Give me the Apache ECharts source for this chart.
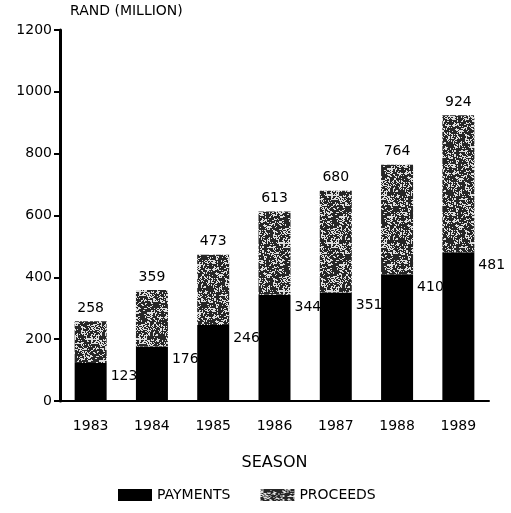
<!DOCTYPE html>
<html>
<head>
<meta charset="utf-8">
<script src="https://cdn.jsdelivr.net/npm/echarts@6/dist/echarts.min.js"></script>
<style>
  html, body { margin: 0; padding: 0; background: #fff; }
  #chart { width: 511px; height: 513px; }
</style>
</head>
<body>
<div id="chart"></div>
<script>
// Seasons and values in rand (million)
const seasons = ['1983', '1984', '1985', '1986', '1987', '1988', '1989'];
const payments = [123, 176, 246, 344, 351, 410, 481];
const totals = [258, 359, 473, 613, 680, 764, 924];
// proceeds segment sits on top of payments, so the stack reaches the total
const proceeds = totals.map((t, i) => t - payments[i]);

const FONT = 'DejaVu Sans';

// Speckled grey fill for the proceeds segment (deterministic hash, no randomness)
function hash(x, y) {
  const h = Math.sin(x * 12.9898 + y * 78.233) * 43758.5453;
  return h - Math.floor(h);
}
function speckleTexture() {
  const size = 48;
  const c = document.createElement('canvas');
  c.width = c.height = size;
  const g = c.getContext('2d');
  g.fillStyle = '#262626';
  g.fillRect(0, 0, size, size);
  g.fillStyle = '#dedede';
  for (let y = 0; y < size; y++) {
    for (let x = 0; x < size; x++) {
      const v = 0.55 * hash(x, y) + 0.45 * hash(Math.floor(x / 3) + 101, Math.floor(y / 2) + 57);
      if (v < 0.4) g.fillRect(x, y, 1, 1);
    }
  }
  return c;
}
const proceedsFill = { image: speckleTexture(), repeat: 'repeat' };

const chart = echarts.init(document.getElementById('chart'), null, { renderer: 'canvas' });

chart.setOption({
  animation: false,
  backgroundColor: '#fff',
  textStyle: { fontFamily: FONT, color: '#000' },
  grid: { left: 60, right: 22, top: 30, bottom: 112, containLabel: false },
  legend: {
    left: 113,
    top: 483,
    icon: 'rect',
    itemWidth: 34,
    itemHeight: 12,
    itemGap: 30,
    textStyle: { fontFamily: FONT, fontSize: 14, color: '#000' },
    data: ['PAYMENTS', 'PROCEEDS']
  },
  xAxis: {
    type: 'category',
    data: seasons,
    name: 'SEASON',
    nameLocation: 'middle',
    nameGap: 54,
    nameTextStyle: { fontFamily: FONT, fontSize: 16, color: '#000' },
    axisLine: { lineStyle: { color: '#000', width: 2 } },
    axisTick: { alignWithLabel: true, length: 6, lineStyle: { color: '#000', width: 2 } },
    axisLabel: { fontFamily: FONT, fontSize: 14, color: '#000', margin: 18 }
  },
  yAxis: {
    type: 'value',
    min: 0,
    max: 1200,
    interval: 200,
    name: 'RAND (MILLION)',
    nameLocation: 'end',
    nameGap: 12,
    nameTextStyle: { fontFamily: FONT, fontSize: 14, color: '#000', align: 'left', padding: [0, 0, 0, 10] },
    axisLine: { show: true, lineStyle: { color: '#000', width: 3 } },
    axisTick: { show: true, length: 6, lineStyle: { color: '#000', width: 2 } },
    axisLabel: { fontFamily: FONT, fontSize: 14, color: '#000', margin: 8, formatter: v => String(v) },
    splitLine: { show: false }
  },
  series: [
    {
      name: 'PAYMENTS',
      type: 'bar',
      stack: 'season',
      barWidth: 32,
      data: payments,
      itemStyle: { color: '#000' },
      label: {
        show: true,
        position: ['100%', 0],
        align: 'left',
        verticalAlign: 'top',
        offset: [4, 6],
        fontFamily: FONT,
        fontSize: 14,
        color: '#000'
      }
    },
    {
      name: 'PROCEEDS',
      type: 'bar',
      stack: 'season',
      barWidth: 32,
      data: proceeds,
      itemStyle: { color: proceedsFill },
      label: {
        show: true,
        position: 'top',
        distance: 6,
        fontFamily: FONT,
        fontSize: 14,
        color: '#000',
        formatter: p => String(totals[p.dataIndex])
      }
    }
  ]
});
</script>
</body>
</html>
